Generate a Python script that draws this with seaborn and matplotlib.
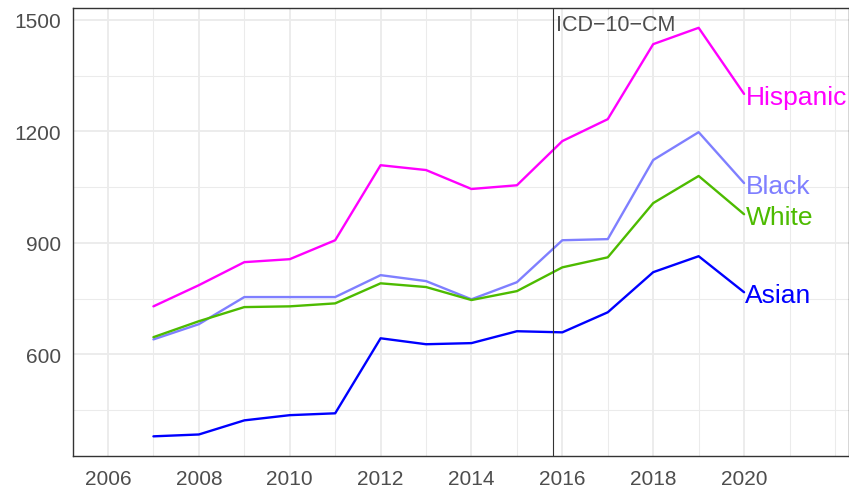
import matplotlib
matplotlib.use("Agg")
import matplotlib.pyplot as plt
import seaborn as sns
import pandas as pd
from matplotlib.ticker import FixedLocator

years = list(range(2007, 2021))
hispanic = [729, 786, 848, 856, 907, 1109, 1096, 1045, 1055, 1174, 1233, 1435, 1479, 1301]
black = [640, 681, 754, 754, 754, 813, 797, 748, 794, 907, 910, 1123, 1198, 1061]
white = [646, 689, 727, 729, 737, 791, 781, 746, 770, 834, 861, 1007, 1080, 977]
asian = [379, 384, 422, 436, 441, 643, 627, 630, 662, 659, 713, 821, 864, 767]
groups = ["Hispanic", "Black", "White", "Asian"]
colors = {"Hispanic": "#FF00FF", "Black": "#7F7FFF", "White": "#4DBB00", "Asian": "#0000FF"}
x_ticks = [2006, 2008, 2010, 2012, 2014, 2016, 2018, 2020]
y_ticks = [600, 900, 1200, 1500]
icd_year = 2015.79
icd_label = "ICD\u221210\u2212CM"

series = {"Hispanic": hispanic, "Black": black, "White": white, "Asian": asian}
df = pd.DataFrame([
    {"year": y, "value": v, "group": g}
    for g in groups for y, v in zip(years, series[g])
])

sns.set_theme(style="white")
plt.rcParams['font.family'] = ['Liberation Sans', 'DejaVu Sans']

fig = plt.figure(figsize=(8.49, 4.89), dpi=100)
ax = fig.add_axes([0.086, 0.0654, 0.9135, 0.9152])

ax.set_xlim(2005.23, 2022.3)
ax.set_ylim(326, 1531)

ax.xaxis.set_major_locator(FixedLocator(x_ticks))
ax.xaxis.set_minor_locator(FixedLocator([2005, 2007, 2009, 2011, 2013, 2015, 2017, 2019, 2021, 2022]))
ax.yaxis.set_major_locator(FixedLocator(y_ticks))
ax.yaxis.set_minor_locator(FixedLocator([450, 750, 1050, 1350]))

ax.grid(which="major", color="#EBEBEB", linewidth=1.3, zorder=0)
ax.grid(which="minor", color="#EBEBEB", linewidth=0.75, zorder=0)
ax.set_axisbelow(True)

sns.lineplot(data=df, x="year", y="value", hue="group", palette=colors,
             hue_order=groups, linewidth=1.7, legend=False, ax=ax, zorder=3)

ax.axvline(icd_year, color="#333333", linewidth=0.8, zorder=4)
ax.text(icd_year + 0.08, 1531 - 14, icd_label, ha="left", va="top",
        fontsize=15.5, color="#4D4D4D")

for g in groups:
    ax.text(years[-1] + 0.03, series[g][-1] - 8, g, color=colors[g], fontsize=19,
            ha="left", va="center", zorder=5)

for s in ax.spines.values():
    s.set_color("#333333")
    s.set_linewidth(1.0)

ax.tick_params(axis="x", which="major", length=5, width=1.0, color="#333333",
               labelsize=15, labelcolor="#4D4D4D", pad=4.3)
ax.tick_params(axis="y", which="major", length=5, width=1.0, color="#333333",
               labelsize=15, labelcolor="#4D4D4D", pad=3.3)
ax.tick_params(axis="both", which="minor", length=0)
ax.set_xlabel("")
ax.set_ylabel("")

fig.savefig("out.png", dpi=100)
